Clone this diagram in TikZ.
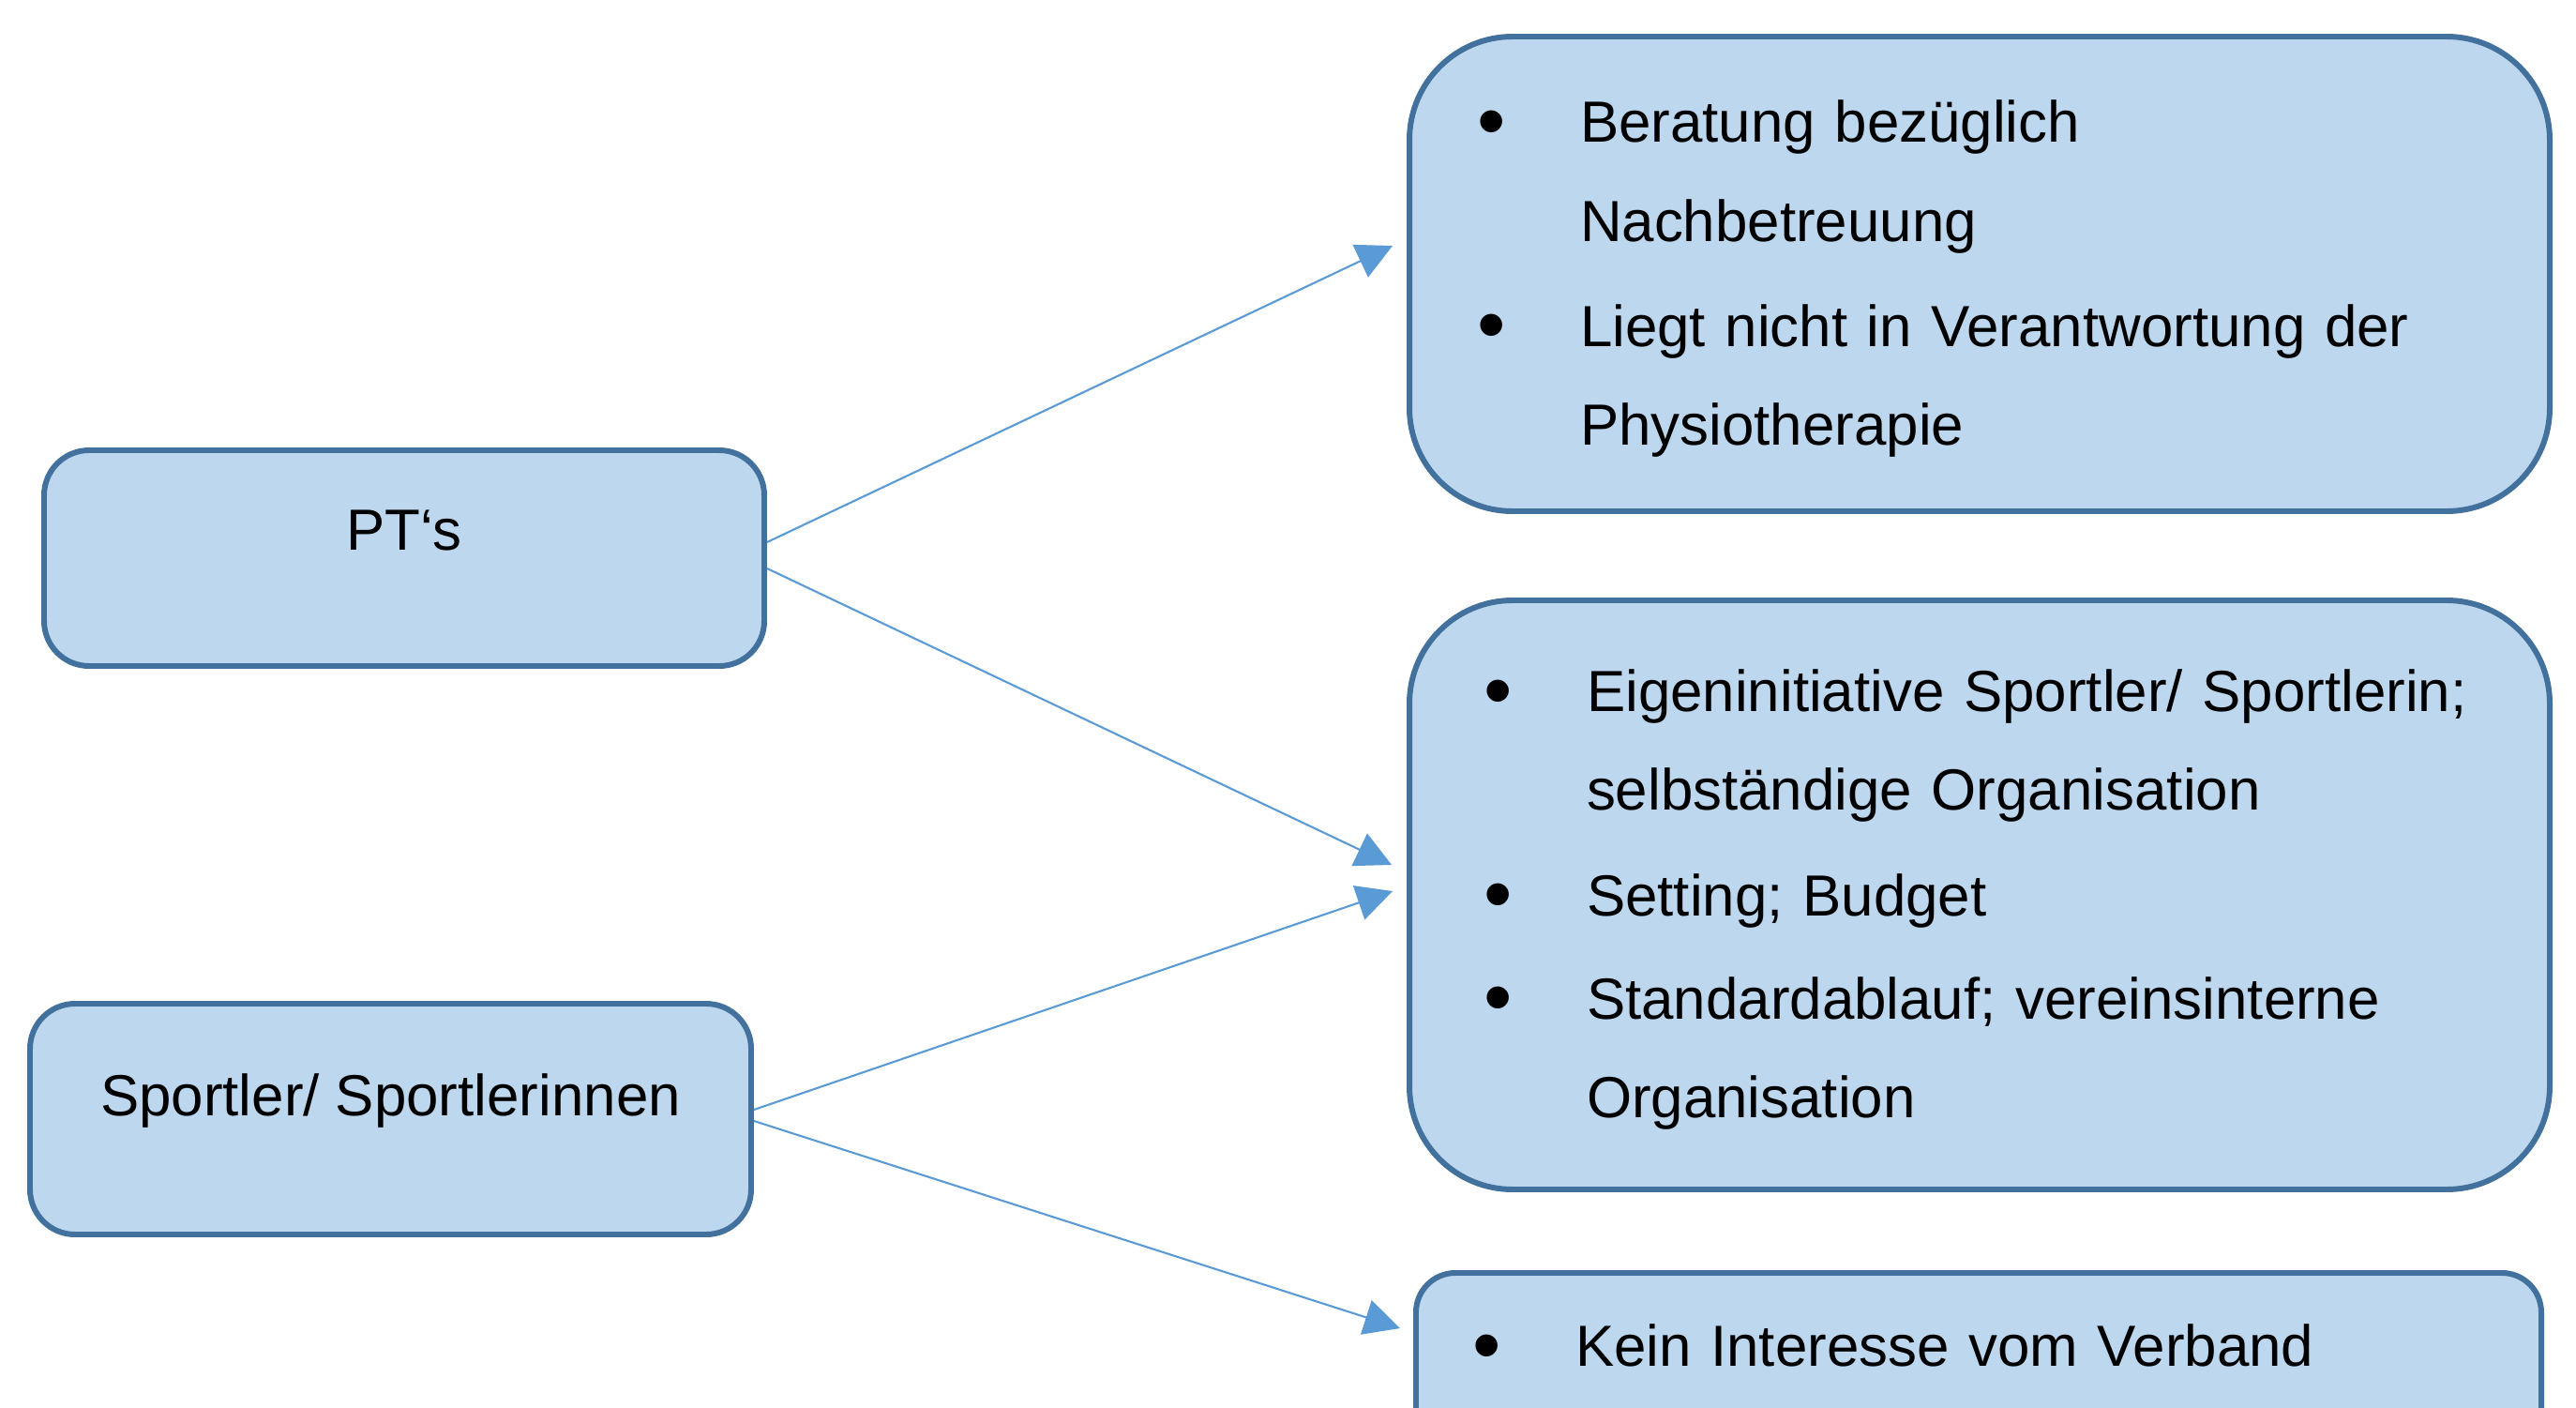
\documentclass[tikz,border=0pt]{standalone}
\usepackage{fontspec}
\setmainfont{Liberation Sans}
\usetikzlibrary{arrows.meta}
\definecolor{boxfill}{HTML}{BDD7EE}
\definecolor{boxline}{HTML}{41719C}
\definecolor{linkblue}{HTML}{5B9BD5}
\newcommand{\bul}{\makebox[1.1cm][l]{\raisebox{-0.1em}{\scalebox{1.4}{\textbullet}}}}
\newcommand{\ind}{\hspace*{1.1cm}}
\tikzset{
  sidebox/.style={rectangle,draw=boxline,line width=1.7pt,fill=boxfill,rounded corners=0.48cm,
    text height=0.5cm,font=\fontsize{17.6pt}{29.9pt}\selectfont},
  listbox/.style={rectangle,draw=boxline,line width=1.7pt,fill=boxfill,rounded corners=1.1cm,
    align=left,font=\fontsize{17.6pt}{29.9pt}\selectfont},
  link/.style={draw=linkblue,line width=0.6pt,-{Triangle[length=0.38cm,width=0.38cm,fill=linkblue]}},
}
\begin{document}
\begin{tikzpicture}
\useasboundingbox (0,0) rectangle (27.47,-15.01);
\clip (0,0) rectangle (27.47,-15.01);
%
\node at (4.31,-5.95) [sidebox,minimum width=7.68cm,minimum height=2.30cm,text depth=0.68cm] (pt) {PT‘s};
\node at (4.165,-11.93) [sidebox,minimum width=7.69cm,minimum height=2.46cm,text depth=0.58cm] (sport) {Sportler/ Sportlerinnen};
%
\node at (21.11,-2.92) [listbox,minimum width=12.16cm,minimum height=5.06cm,inner xsep=0.72cm,text width=10.72cm,text height=0.55cm] (betreuung)
  {\bul Beratung bezüglich\\ \ind Nachbetreuung\\[0.07cm] \bul Liegt nicht in Verantwortung der\\ \ind Physiotherapie};
\node at (21.11,-9.54) [listbox,minimum width=12.16cm,minimum height=6.28cm,inner xsep=0.79cm,text width=10.58cm,text height=0.55cm] (orga)
  {\bul Eigeninitiative Sportler/ Sportlerin;\\ \ind selbständige Organisation\\[0.07cm] \bul Setting; Budget\\[0.05cm] \bul Standardablauf; vereinsinterne\\ \ind Organisation};
\node at (15.07,-13.54) [listbox,anchor=north west,rounded corners=0.42cm,minimum width=12.0cm,minimum height=2.4cm,
  inner xsep=0.60cm,text width=10.8cm,text height=0.5cm,text depth=0.90cm] (verband) {\bul Kein Interesse vom Verband};
%
\draw[link] ([yshift=0.17cm]pt.east) -- ([xshift=-0.15cm,yshift=0.30cm]betreuung.west);
\draw[link] ([yshift=-0.11cm]pt.east) -- ([xshift=-0.16cm,yshift=0.32cm]orga.west);
\draw[link] ([yshift=0.10cm]sport.east) -- ([xshift=-0.15cm,yshift=0.04cm]orga.west);
\draw[link] ([yshift=-0.02cm]sport.east) -- ([xshift=-0.14cm,yshift=-0.62cm]verband.north west);
\end{tikzpicture}
\end{document}
